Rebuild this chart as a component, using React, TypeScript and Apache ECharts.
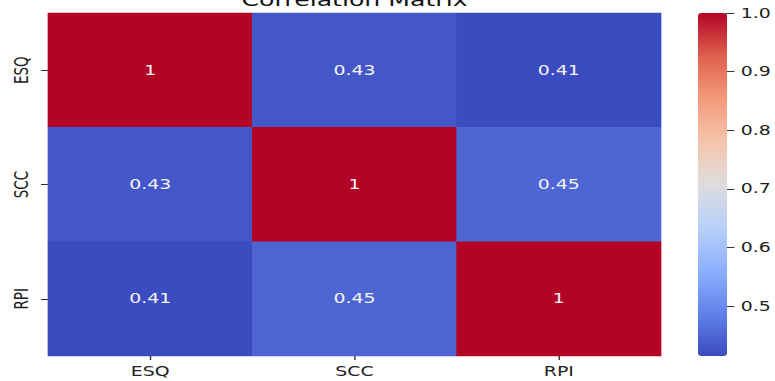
import React, { useEffect, useRef } from "react";
import * as echarts from "echarts";

const TITLE = "Correlation Matrix";
const VARIABLES = ["ESQ", "SCC", "RPI"];
const ROW_ESQ = [1, 0.43, 0.41];
const ROW_SCC = [0.43, 1, 0.45];
const ROW_RPI = [0.41, 0.45, 1];
const COLORBAR_MIN = 0.415;
const COLORBAR_MAX = 1.0;
const COLORBAR_TICKS = [0.5, 0.6, 0.7, 0.8, 0.9, 1.0];
const COOLWARM = [
  "#3b4cc0", "#6282ea", "#8db0fe", "#b8d0f9", "#dddddd",
  "#f5c4ac", "#f49a7b", "#de604d", "#b40426",
];

const SX = 1.4;
const W = 775 / SX;
const H = 381;
const FONT = "DejaVu Sans";

export default function App() {
  const ref = useRef<HTMLDivElement>(null);
  useEffect(() => {
    if (!ref.current) return;
    const chart = echarts.init(ref.current, null, { renderer: "svg", width: W, height: H });
    const rows = [ROW_ESQ, ROW_SCC, ROW_RPI];
    const data: [number, number, number][] = [];
    rows.forEach((row, yi) => row.forEach((v, xi) => data.push([xi, yi, v])));
    const hmLeft = 48 / SX;
    const hmRight = 661 / SX;
    const cbLeft = 698 / SX;
    const cbWidth = 29 / SX;
    const top = 13;
    const height = 343;
    chart.setOption({
      animation: false,
      title: {
        text: TITLE,
        left: (hmLeft + hmRight) / 2,
        textAlign: "center",
        top: -9,
        padding: 0,
        textStyle: { fontFamily: FONT, fontSize: 18, fontWeight: "normal", color: "#111" },
      },
      grid: [
        { left: hmLeft, top, width: hmRight - hmLeft, height },
        { left: cbLeft, top, width: cbWidth, height },
      ],
      xAxis: [
        {
          type: "category",
          data: VARIABLES,
          gridIndex: 0,
          axisLine: { show: false },
          axisTick: { show: true, alignWithLabel: true, length: 4, lineStyle: { color: "#333" } },
          axisLabel: { fontFamily: FONT, fontSize: 13.5, color: "#222", margin: 8 },
          splitLine: { show: false },
        },
        { type: "category", gridIndex: 1, data: ["cb"], show: false },
      ],
      yAxis: [
        {
          type: "category",
          data: VARIABLES,
          inverse: true,
          gridIndex: 0,
          axisLine: { show: false },
          axisTick: { show: true, alignWithLabel: true, length: 5, lineStyle: { color: "#333" } },
          axisLabel: { fontFamily: FONT, fontSize: 13.5, color: "#222", rotate: 90, margin: 12 },
          splitLine: { show: false },
        },
        {
          type: "value",
          gridIndex: 1,
          position: "right",
          min: COLORBAR_MIN,
          max: COLORBAR_MAX,
          axisLine: { show: false },
          splitLine: { show: false },
          axisTick: {
            show: true,
            length: 6.5,
            customValues: COLORBAR_TICKS,
            lineStyle: { color: "#333" },
          },
          axisLabel: {
            customValues: COLORBAR_TICKS,
            formatter: (v: number) => v.toFixed(1),
            fontFamily: FONT,
            fontSize: 13.5,
            color: "#222",
            margin: 11,
          },
        },
      ],
      visualMap: {
        type: "continuous",
        min: COLORBAR_MIN,
        max: COLORBAR_MAX,
        seriesIndex: 0,
        show: true,
        calculable: false,
        hoverLink: false,
        orient: "vertical",
        left: cbLeft,
        top,
        itemWidth: cbWidth,
        itemHeight: height,
        padding: 0,
        inRange: { color: COOLWARM },
      },
      series: [
        {
          type: "heatmap",
          xAxisIndex: 0,
          yAxisIndex: 0,
          data,
          label: {
            show: true,
            formatter: (p: any) => String(p.value[2]),
            fontFamily: FONT,
            fontSize: 13.5,
            color: "#f4f4f8",
          },
          emphasis: { disabled: true },
          itemStyle: { borderWidth: 0 },
        },
      ],
    });
    return () => chart.dispose();
  }, []);
  return (
    <div
      ref={ref}
      style={{
        position: "absolute",
        left: 0,
        top: 0,
        width: W,
        height: H,
        transform: `scaleX(${SX})`,
        transformOrigin: "0 0",
      }}
    />
  );
}
